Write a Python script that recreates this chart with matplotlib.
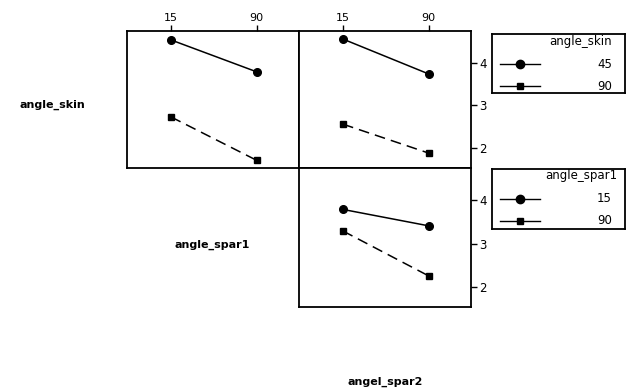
import matplotlib.pyplot as plt
from matplotlib.lines import Line2D

# levels on the x axis of each panel
x_levels = [15, 90]
x_ticklabels = ['15', '90']

# panel: angle_skin (lines) vs angle_spar1 (x)
skin45_vs_spar1 = [4.54, 3.79]
skin90_vs_spar1 = [2.73, 1.71]
# panel: angle_skin (lines) vs angel_spar2 (x)
skin45_vs_spar2 = [4.56, 3.74]
skin90_vs_spar2 = [2.56, 1.88]
# panel: angle_spar1 (lines) vs angel_spar2 (x)
spar1_15_vs_spar2 = [3.79, 3.41]
spar1_90_vs_spar2 = [3.29, 2.25]

y_ticks = [2, 3, 4]

W, H = 627, 390
fig = plt.figure(figsize=(W / 100, H / 100), dpi=100)
plt.rcParams['font.family'] = 'DejaVu Sans'


def px_axes(x0, y0, x1, y1):
    # axes from pixel box (top-left origin)
    return fig.add_axes([x0 / W, 1 - y1 / H, (x1 - x0) / W, (y1 - y0) / H])


def panel(ax, first, second, top_ticks, right_ticks):
    ax.plot(x_levels, first, color='black', lw=1.1, marker='o', ms=5.5)
    ax.plot(x_levels, second, color='black', lw=1.1, ls=(0, (7, 4)),
            marker='s', ms=4.2)
    ax.set_xlim(-23.5, 127)
    ax.set_ylim(1.53, 4.75)
    for s in ax.spines.values():
        s.set_linewidth(1.3)
    ax.xaxis.set_ticks_position('top')
    ax.yaxis.set_ticks_position('right')
    if top_ticks:
        ax.set_xticks(x_levels, x_ticklabels, fontsize=8)
    else:
        ax.set_xticks([])
    if right_ticks:
        ax.set_yticks(y_ticks, [str(t) for t in y_ticks], fontsize=8.5)
    else:
        ax.set_yticks([])
    ax.tick_params(direction='out', length=4, width=1, pad=2)


ax1 = px_axes(127, 31, 299, 168)
panel(ax1, skin45_vs_spar1, skin90_vs_spar1, True, False)
ax2 = px_axes(299, 31, 471, 168)
panel(ax2, skin45_vs_spar2, skin90_vs_spar2, True, True)
ax3 = px_axes(299, 168, 471, 307)
panel(ax3, spar1_15_vs_spar2, spar1_90_vs_spar2, False, True)

# row / column labels
fig.text(52 / W, 1 - 105 / H, 'angle_skin', fontsize=8, fontweight='bold',
         ha='center', va='center')
fig.text(212 / W, 1 - 245 / H, 'angle_spar1', fontsize=8, fontweight='bold',
         ha='center', va='center')
fig.text(385 / W, 1 - 382 / H, 'angel_spar2', fontsize=8, fontweight='bold',
         ha='center', va='center')


def legend_box(x0, y0, x1, y1, title, labels):
    lax = px_axes(x0, y0, x1, y1)
    lax.set_xlim(x0, x1)
    lax.set_ylim(y1, y0)
    lax.set_xticks([])
    lax.set_yticks([])
    for s in lax.spines.values():
        s.set_linewidth(1.3)
    lax.text(x0 + 89, y0 + 7, title, fontsize=8.5, ha='center', va='center')
    for i, (lab, mk, ms) in enumerate(zip(labels, ['o', 's'], [6, 4.5])):
        yy = y0 + 30 + i * 22
        lax.add_line(Line2D([x0 + 8, x0 + 48], [yy, yy], color='black',
                            lw=1, marker=None))
        lax.plot([x0 + 28], [yy], color='black', marker=mk, ms=ms)
        lax.text(x0 + 120, yy, lab, fontsize=8.5, ha='right', va='center')


legend_box(492, 34, 625, 93, 'angle_skin', ['45', '90'])
legend_box(492, 169, 625, 229, 'angle_spar1', ['15', '90'])

fig.savefig('out.png', dpi=100)
